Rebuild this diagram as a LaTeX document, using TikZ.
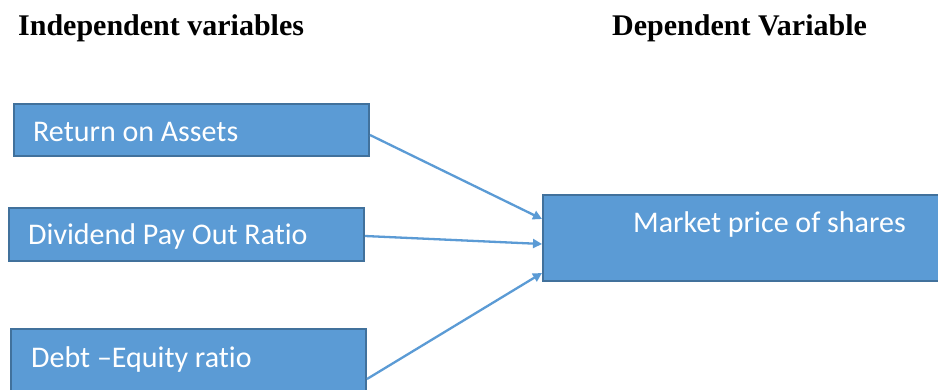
\documentclass[tikz,border=0pt]{standalone}
\usepackage{fontspec}
\setmainfont{Liberation Serif}
\newfontfamily\boxfont[Ligatures={NoCommon}]{Carlito}
\usetikzlibrary{arrows.meta}
\definecolor{boxfill}{HTML}{5B9BD5}
\definecolor{boxline}{HTML}{41719C}
\definecolor{arrline}{HTML}{5B9BD5}
\tikzset{
  varbox/.style={draw=boxline, fill=boxfill, line width=2pt, rectangle, inner sep=0pt, anchor=north west},
  boxtext/.style={font=\boxfont\fontsize{30}{36}\selectfont, text=white, anchor=base west, inner sep=0pt},
  headtext/.style={font=\bfseries\fontsize{30}{36}\selectfont, text=black, anchor=base west, inner sep=0pt},
  conn/.style={draw=arrline, line width=2.3pt, -{Triangle[length=9pt,width=9pt]}}
}
\begin{document}
\begin{tikzpicture}[x=1pt,y=-1pt]
\useasboundingbox (0,0) rectangle (938,390);
\clip (0,0) rectangle (938,390);
\fill[white] (0,0) rectangle (938,390);
% headers
\node[headtext] (h1) at (18,36) {Independent variables};
\node[headtext] (h2) at (612,36) {Dependent Variable};
% boxes
\node[varbox, minimum width=355pt, minimum height=52pt] (roa) at (13,103) {};
\node[varbox, minimum width=355pt, minimum height=53pt] (dpr) at (8,207) {};
\node[varbox, minimum width=355pt, minimum height=70pt] (der) at (10,328) {};
\node[varbox, minimum width=398pt, minimum height=86pt] (mps) at (542,194) {};
% texts
\node[boxtext] (t1) at (33,142) {Return on Assets};
\node[boxtext] (t2) at (28,245) {Dividend Pay Out Ratio};
\node[boxtext] (t3) at (31,367) {Debt –Equity ratio};
\node[boxtext] (t4) at (633,233) {Market price of shares};
% connectors
\draw[conn] ([yshift=-5pt]roa.east) -- ([yshift=19pt]mps.west);
\draw[conn] ([yshift=-1.5pt]dpr.east) -- ([yshift=-6pt]mps.west);
\draw[conn] ([yshift=-15pt]der.east) -- ([yshift=-35pt]mps.west);
\end{tikzpicture}
\end{document}
